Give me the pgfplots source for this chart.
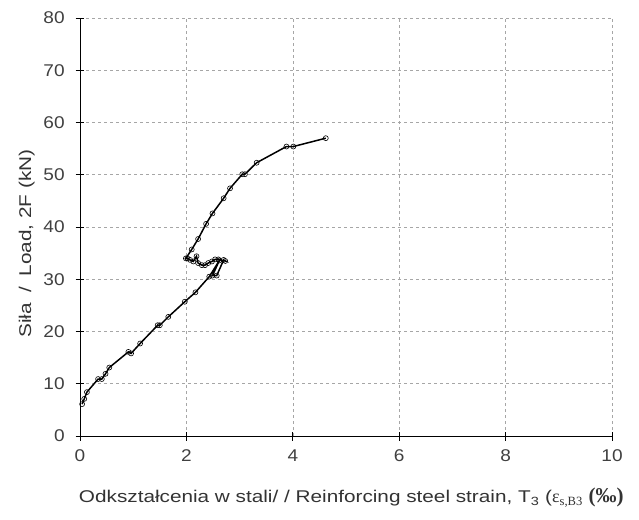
\documentclass[border=0pt]{standalone}
\usepackage{pgfplots}
\pgfplotsset{compat=1.18}
\usepackage{fontspec}
\setmainfont{Liberation Sans}[FakeStretch=1.12]
\newfontfamily\lab{Liberation Sans}[FakeStretch=1.22]
\newfontfamily\serif{Liberation Serif}

\begin{document}
\fontsize{17}{19}\selectfont
\begin{tikzpicture}
\path[use as bounding box] (-80pt,-83pt) rectangle (559pt,436pt);
\begin{axis}[
    at={(0,0)}, anchor=south west,
    scale only axis,
    width=532pt, height=418pt,
    xmin=0, xmax=10, ymin=0, ymax=80,
    xtick={0,2,...,10}, ytick={0,10,...,80},
    axis x line*=bottom, axis y line*=left,
    axis line style={black, line width=0.9pt},
    tick style={black, line width=0.7pt},
    tick align=center,
    major tick length=9pt,
    grid=major,
    grid style={dashed, gray!70, line width=0.6pt},
    /pgf/number format/assume math mode=true,
    ticklabel style={font=\fontsize{17}{19}\selectfont, text=black!75},
    xticklabel style={yshift=-3pt},
    yticklabel style={xshift=-5pt},
    xlabel={Odkształcenia w stali/ / Reinforcing steel strain, T\textsubscript{3} ({\serif\fontsize{18}{19}\selectfont ε\textsubscript{s,B3}} {\serif\bfseries\fontsize{21}{21}\selectfont (‰)}},
    ylabel={Siła \;/\; Load, 2F (kN)},
    xlabel style={font=\lab\fontsize{17}{19}\selectfont, text=black!80,
        at={(axis description cs:0.51,-0.148)}, anchor=center},
    ylabel style={font=\lab\fontsize{17}{19}\selectfont, text=black!80,
        at={(axis description cs:-0.1,0.46)}, anchor=center},
    clip=false,
]
\addplot[black, line width=1.5pt,
    mark=o, mark size=2.5pt,
    mark options={fill=white, line width=0.6pt}]
coordinates {
(0.04,6.1)(0.08,7.1)(0.13,8.4)(0.34,10.9)(0.41,10.9)(0.48,11.9)(0.55,13.1)
(0.91,16.1)(0.96,15.8)(1.13,17.7)(1.46,21.2)(1.50,21.2)(1.66,22.8)(1.97,25.7)
(2.17,27.5)(2.43,30.5)(2.62,33.6)(2.49,30.7)(2.57,30.7)(2.70,33.7)(2.73,33.5)
(2.60,33.8)(2.54,33.8)(2.48,33.4)(2.41,33.1)(2.35,32.7)(2.29,32.7)(2.22,33.1)
(2.19,34.4)(2.13,33.4)(2.07,33.7)(2.02,34.0)(1.99,34.0)(2.10,35.7)(2.22,37.7)
(2.37,40.6)(2.49,42.6)(2.70,45.5)(2.82,47.4)(3.05,50.1)(3.10,50.1)(3.32,52.3)
(3.88,55.4)(4.01,55.4)(4.62,57.0)
};
\end{axis}
\end{tikzpicture}
\end{document}
